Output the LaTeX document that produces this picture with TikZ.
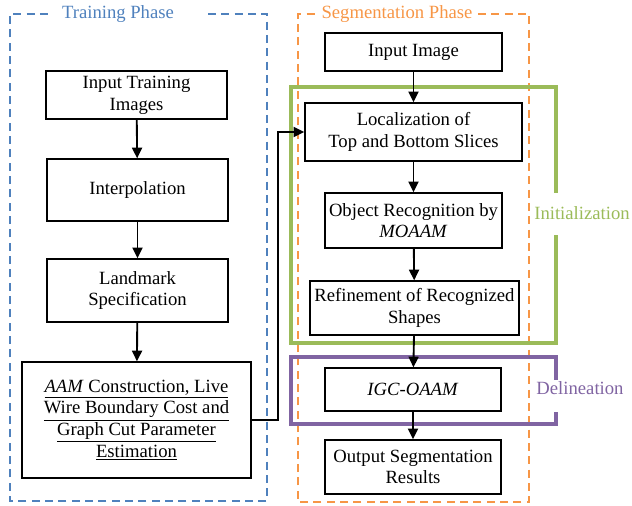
\documentclass[tikz,border=0pt]{standalone}
\usepackage{fontspec}
\setmainfont{Liberation Serif}
\usetikzlibrary{arrows.meta}
\definecolor{cblue}{HTML}{4F81BD}
\definecolor{corange}{HTML}{F79646}
\definecolor{cgreen}{HTML}{9BBB59}
\definecolor{cpurple}{HTML}{8064A2}
\tikzset{
  pbox/.style={draw=black, line width=1pt, align=center, inner sep=1pt,
    font=\fontsize{14}{16.3}\selectfont},
  arr/.style={draw=black, line width=1.4pt, -{Triangle[length=8pt,width=7.5pt]}},
  phase/.style={line width=1.3pt, dash pattern=on 6pt off 4pt},
  ptitle/.style={font=\fontsize{14}{16.3}\selectfont, inner sep=0pt},
  grp/.style={line width=3.4pt}
}
\begin{document}
\begin{tikzpicture}[x=0.75pt,y=-0.75pt]
\useasboundingbox (0,0) rectangle (632,506);
% phase frames
\draw[phase, cblue] (208,14) -- (267,14) -- (267,501) -- (10,501) -- (10,14) -- (53,14);
\node[ptitle, text=cblue] (tp) at (118,14) {Training Phase};
\draw[phase, corange] (478,14) -- (529,14) -- (529,502) -- (298,502) -- (298,14) -- (317,14);
\node[ptitle, text=corange] (sp) at (397,14) {Segmentation Phase};
% group frames
\draw[grp, cgreen] (556,193) -- (556,87) -- (291,87) -- (291,343) -- (556,343) -- (556,235);
\node[ptitle, text=cgreen] (ini) at (582,213) {Initialization};
\draw[grp, cpurple] (556,380) -- (556,357) -- (291,357) -- (291,424) -- (556,424) -- (556,412);
\node[ptitle, text=cpurple] (del) at (580,388) {Delineation};
% training boxes
\node[pbox, minimum width=181*0.75pt, minimum height=48*0.75pt] (b1) at (136.5,95) {Input Training\\Images};
\node[pbox, minimum width=181*0.75pt, minimum height=62*0.75pt] (b2) at (137.5,190) {Interpolation};
\node[pbox, minimum width=181*0.75pt, minimum height=63*0.75pt] (b3) at (137.5,290.5) {Landmark\\Specification};
\node[pbox, minimum width=229*0.75pt, minimum height=116*0.75pt] (b4) at (136.5,420)
  {\underline{\textit{AAM} Construction, Live}\\\underline{Wire Boundary Cost and}\\\underline{Graph Cut Parameter}\\\underline{Estimation}};
% segmentation boxes
\node[pbox, minimum width=177*0.75pt, minimum height=38*0.75pt] (s1) at (413.5,52) {Input Image};
\node[pbox, minimum width=217*0.75pt, minimum height=58*0.75pt] (s2) at (413.5,132) {Localization of\\Top and Bottom Slices};
\node[pbox, minimum width=177*0.75pt, minimum height=55*0.75pt] (s3) at (413.5,220.5) {Object Recognition by\\\textit{MOAAM}};
\node[pbox, minimum width=209*0.75pt, minimum height=54*0.75pt] (s4) at (414.5,308) {Refinement of Recognized\\Shapes};
\node[pbox, minimum width=176*0.75pt, minimum height=43*0.75pt] (s5) at (413,389.5) {\textit{IGC-OAAM}};
\node[pbox, minimum width=176*0.75pt, minimum height=54*0.75pt] (s6) at (413,467) {Output Segmentation\\Results};
% arrows
\draw[arr] (b1) -- (b2);
\draw[arr] (b2) -- (b3);
\draw[arr] (b3) -- (b4);
\draw[arr] (s1) -- (s2);
\draw[arr] (s2) -- (s3);
\draw[arr] (s3) -- (s4);
\draw[arr] (s4) -- (s5);
\draw[arr] (s5) -- (s6);
\coordinate (k) at (278,132);
\draw[arr] (b4.east) -| (k) -- (s2.west);
\end{tikzpicture}
\end{document}
